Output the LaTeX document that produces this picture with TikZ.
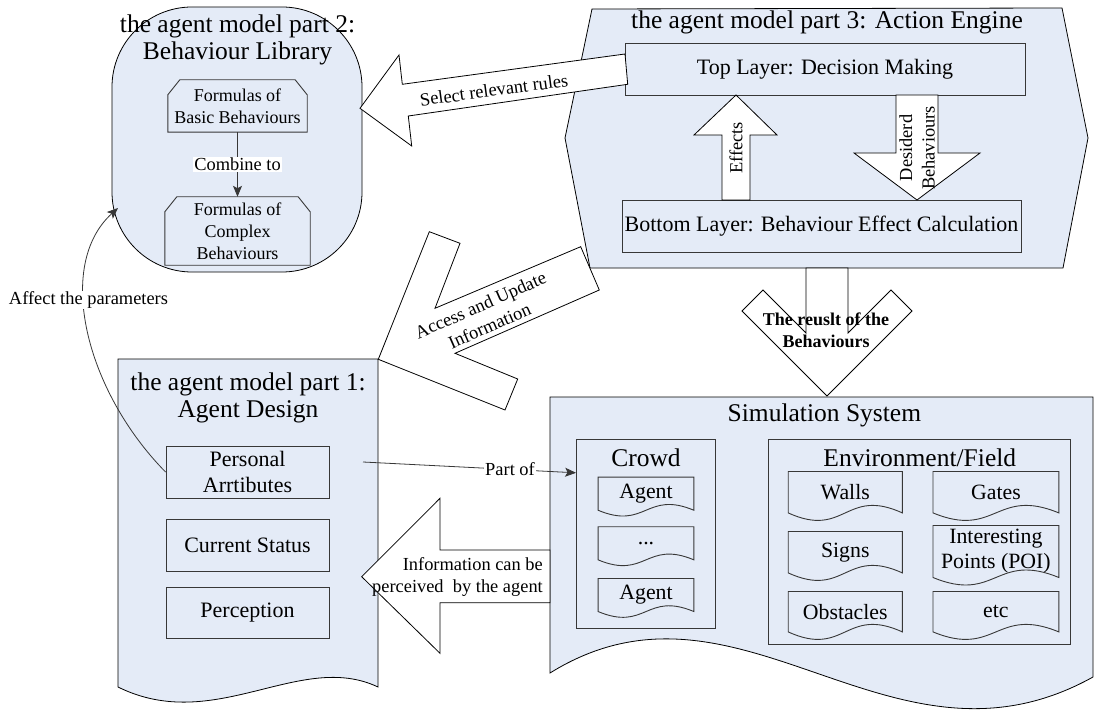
\documentclass[tikz,border=0pt]{standalone}
\usepackage{fontspec}
\setmainfont{Liberation Serif}
\usetikzlibrary{arrows.meta,calc}
\definecolor{paneblue}{RGB}{228,235,247}
\definecolor{edgegrey}{RGB}{55,55,55}
\newcommand\fsz[2]{\fontsize{#1}{#2}\selectfont}
\newcommand\docedge[2]{\draw[outline] (#1.north west) -- (#1.north east) -- (#1.south east) .. controls ($(#1.south)+(0,-#2)$) and ($(#1.south)+(0,#2)$) .. (#1.south west) -- cycle;}
\begin{document}
\begin{tikzpicture}[x=1pt,y=-1pt,
  panel/.style={fill=paneblue,draw=black,line width=0.8pt},
  title/.style={font=\fsz{25.5}{27.5},align=center,inner sep=0pt},
  lbl/.style={font=\fsz{18.4}{22.5},align=center,inner sep=0pt},
  layerbox/.style={draw=edgegrey,line width=0.9pt,fill=paneblue,inner sep=0pt,align=center,font=\fsz{22}{26}},
  libtext/.style={inner sep=0pt,align=center,font=\fsz{18}{22}},
  doctext/.style={inner sep=0pt,align=center,font=\fsz{21.8}{25}},
  outline/.style={draw=edgegrey,line width=0.9pt},
  blockarrow/.style={fill=white,draw=black,line width=0.8pt,line join=miter},
  conn/.style={draw=edgegrey,line width=0.8pt,-{Stealth[length=11pt,width=9pt,inset=2.5pt]}},
  lblbg/.style={fill=white,inner sep=1pt}
]
\useasboundingbox (0,0) rectangle (1094,711);

% ---- part 2: behaviour library
\draw[panel,rounded corners=80pt] (112,7) rectangle (362,272);
\node[title] (libtitle) at (237.5,40) {the agent model part 2:\\Behaviour Library};
\node[libtext,minimum width=139pt,minimum height=52pt] (basic) at (237.5,106) {Formulas of\\Basic Behaviours};
\draw[outline] (basic.south west) -- ([yshift=-15pt]basic.north west) -- ([xshift=12pt]basic.north west) -- ([xshift=-12pt]basic.north east) -- ([yshift=-15pt]basic.north east) -- (basic.south east) -- cycle;
\node[libtext,minimum width=145pt,minimum height=68pt] (complex) at (237.5,231) {Formulas of\\Complex\\Behaviours};
\draw[outline] (complex.south west) -- ([yshift=-15pt]complex.north west) -- ([xshift=12pt]complex.north west) -- ([xshift=-12pt]complex.north east) -- ([yshift=-15pt]complex.north east) -- (complex.south east) -- cycle;
\draw[conn] (basic.south) -- node[lbl,lblbg] (combinelbl) {Combine to} (complex.north);

% ---- part 3: action engine
\draw[panel] (592,9) -- (1062,8) -- (1088,138) -- (1063,268) -- (590,268) -- (565,138) -- cycle;
\node[title] (aetitle) at (827,22) {the agent model part 3: Action Engine};
\node[layerbox,minimum width=400pt,minimum height=52pt] (top) at (825,69) {Top Layer: Decision Making};
\node[layerbox,minimum width=399pt,minimum height=52pt] (bottom) at (821.5,226) {Bottom Layer: Behaviour Effect Calculation};
\draw[blockarrow] (722,200) -- (722,135) -- (694,135) -- (736,95) -- (777,135) -- (750,135) -- (750,200) -- cycle;
\node[lbl,rotate=90] (effects) at (736,148) {Effects};
\draw[blockarrow] (896,95) -- (896,153) -- (854,153) -- (917,200) -- (980,153) -- (938,153) -- (938,95) -- cycle;
\node[lbl,rotate=90] (desired) at (917,148) {Desiderd\\Behaviours};

% ---- part 1: agent design
\draw[panel] (118,359) -- (378,359) -- (378,687) .. controls (300,650) and (215,735) .. (118,687) -- cycle;
\node[title] (adtitle) at (248,398) {the agent model part 1:\\Agent Design};
\node[layerbox,minimum width=163pt,minimum height=52pt] (pa) at (247.5,472) {Personal\\Arrtibutes};
\node[layerbox,minimum width=163pt,minimum height=52pt] (cs) at (247.5,545) {Current Status};
\node[layerbox,minimum width=163pt,minimum height=51pt] (pe) at (247.5,612.5) {Perception};

% ---- simulation system
\draw[panel] (550,397) -- (1093,397) -- (1093,677) .. controls (890,790) and (740,555) .. (550,673) -- cycle;
\node[title] (simtitle) at (824.4,415) {Simulation System};
\node[layerbox,minimum width=139pt,minimum height=189pt] (crowd) at (646,533.8) {};
\node[title] (crowdlbl) at (646,458) {Crowd};
\node[layerbox,minimum width=301.4pt,minimum height=204.7pt] (env) at (919.3,541.7) {};
\node[title] (envlbl) at (919.8,458) {Environment/Field};

\node[doctext,minimum width=95.4pt,minimum height=32.7pt] (ag1) at (646,493.7) {Agent}; \docedge{ag1}{20}
\node[doctext,minimum width=95.4pt,minimum height=32.7pt] (ag2) at (646,543.3) {...}; \docedge{ag2}{20}
\node[doctext,minimum width=95.4pt,minimum height=32.7pt] (ag3) at (646,595) {Agent}; \docedge{ag3}{20}
\node[doctext,minimum width=113.7pt,minimum height=41pt] (walls) at (845.25,492.2) {Walls}; \docedge{walls}{26}
\node[doctext,minimum width=125.4pt,minimum height=41pt] (gates) at (995.9,492.2) {Gates}; \docedge{gates}{26}
\node[doctext,minimum width=113.7pt,minimum height=41pt] (signs) at (845.25,552.2) {Signs}; \docedge{signs}{26}
\node[doctext,minimum width=125.4pt,minimum height=51.6pt] (poi) at (995.9,551.5) {Interesting\\Points (POI)}; \docedge{poi}{26}
\node[doctext,minimum width=113.7pt,minimum height=40pt] (obst) at (845.25,611.7) {Obstacles}; \docedge{obst}{26}
\node[doctext,minimum width=125.4pt,minimum height=40pt] (etc) at (995.9,611.7) {etc}; \docedge{etc}{26}

% ---- block arrows
\draw[blockarrow] (360,108.3) -- (399,55) -- (402.3,84.3) -- (625,54) -- (627.7,84.3) -- (408.3,116) -- (411.7,146) -- cycle;
\node[lbl,rotate=7.75] (selectlbl) at (494,90) {Select relevant rules};

\draw[blockarrow] (378.3,359.3) -- (429.3,231.7) -- (460,243.3) -- (435,308.3) -- (580.7,246.7) -- (599.3,290) -- (455,353.3) -- (517.7,379) -- (505,410) -- cycle;
\node[lbl,rotate=23.7] (accesslbl) at (485,315.5) {Access and Update\\Information};

\draw[blockarrow] (550,550) -- (440,550) -- (440,498.3) -- (361.7,576.7) -- (440,653.3) -- (440,602.7) -- (550,602.7) -- cycle;
\node[lbl,align=right,anchor=east] (infolbl) at (543,577) {Information can be\\perceived~ by the agent};

\draw[blockarrow] (806,268) -- (806,333) -- (763,290) -- (742,311) -- (827,396) -- (912,311) -- (891,290) -- (848,333) -- (848,268) -- cycle;
\node[lbl,font=\bfseries\fsz{18}{22}] (resultlbl) at (826,330) {The reuslt of the\\Behaviours};

% ---- connectors
\coordinate (pastart) at (363,462);
\draw[conn] (pastart) -- node[lbl,lblbg,pos=0.69] (partlbl) {Part of} ([yshift=61pt]crowd.west);
\coordinate (libleft) at (118,208);
\draw[conn] (pa.west) .. controls (85,390) and (55,265) .. (libleft);
\node[lbl,lblbg] (affectlbl) at (88.5,300) {Affect the parameters};
\end{tikzpicture}
\end{document}
